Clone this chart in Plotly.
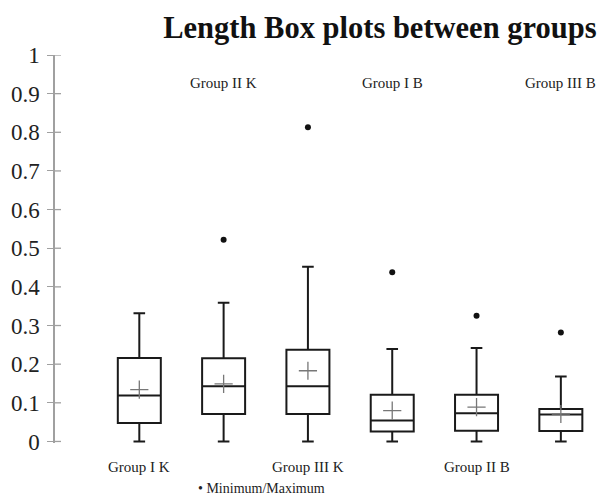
import plotly.graph_objects as go

categories = ["Group I K", "Group II K", "Group III K", "Group I B", "Group II B", "Group III B"]
mins = [0.0, 0.0, 0.0, 0.0, 0.0, 0.0]
q1 = [0.048, 0.071, 0.071, 0.026, 0.028, 0.027]
medians = [0.119, 0.143, 0.143, 0.054, 0.073, 0.070]
q3 = [0.216, 0.215, 0.237, 0.121, 0.121, 0.084]
upper_whisker = [0.332, 0.359, 0.452, 0.239, 0.242, 0.168]
means = [0.134, 0.149, 0.183, 0.080, 0.089, 0.071]
max_points = [None, 0.522, 0.813, 0.438, 0.325, 0.282]
yticks = [0, 0.1, 0.2, 0.3, 0.4, 0.5, 0.6, 0.7, 0.8, 0.9, 1]
ytick_text = ["0", "0.1", "0.2", "0.3", "0.4", "0.5", "0.6", "0.7", "0.8", "0.9", "1"]

xpos = list(range(1, len(categories) + 1))
serif = "Liberation Serif, Times New Roman, serif"
axis_grey = "#a0a0a0"

fig = go.Figure()
fig.add_trace(go.Box(
    x=xpos, q1=q1, median=medians, q3=q3, lowerfence=mins, upperfence=upper_whisker,
    width=0.51, whiskerwidth=0.27, fillcolor="white",
    line=dict(color="#1a1a1a", width=2), showlegend=False, hoverinfo="skip",
))
fig.add_trace(go.Scatter(
    x=xpos, y=means, mode="markers", showlegend=False,
    marker=dict(symbol="cross-thin", size=13, line=dict(color="#777777", width=1.3)),
))
fig.add_trace(go.Scatter(
    x=xpos, y=max_points, mode="markers", showlegend=False,
    marker=dict(symbol="circle", size=6, color="#111111"),
))

annotations = []
for i, (xv, name) in enumerate(zip(xpos, categories)):
    yv = -0.062 if i % 2 == 0 else 0.927
    annotations.append(dict(x=xv, y=yv, xref="x", yref="paper", text=name, showarrow=False,
                            xanchor="center", yanchor="middle",
                            font=dict(family=serif, size=15, color="#222222")))
annotations.append(dict(x=0.258, y=-0.118, xref="paper", yref="paper",
                        text="• Minimum/Maximum", showarrow=False, xanchor="left",
                        yanchor="middle", font=dict(family=serif, size=14, color="#222222")))

# inward half of the crossing tick marks on the y axis
shapes = [dict(type="line", xref="paper", yref="y", x0=0, x1=0.011, y0=t, y1=t,
               line=dict(color=axis_grey, width=1.3)) for t in yticks]

fig.update_layout(
    width=603, height=501,
    margin=dict(l=55, r=0, t=55, b=58),
    paper_bgcolor="white", plot_bgcolor="white",
    title=dict(text="<b>Length Box plots between groups</b>", x=0.630, xref="container",
               xanchor="center", y=0.946, yref="container", yanchor="middle",
               font=dict(family=serif, size=30.5, color="#111111")),
    xaxis=dict(range=[0, 6.5], showgrid=False, zeroline=False, showline=False,
               showticklabels=False, ticks=""),
    yaxis=dict(range=[-0.004, 1.0], tickvals=yticks, ticktext=ytick_text, showgrid=False,
               zeroline=False, showline=True, linecolor=axis_grey, linewidth=1.5,
               ticks="outside", ticklen=6, tickcolor=axis_grey, tickwidth=1.3,
               ticklabelstandoff=3,
               tickfont=dict(family=serif, size=23, color="#222222")),
    annotations=annotations,
    shapes=shapes,
)

fig.write_html("out.html")
